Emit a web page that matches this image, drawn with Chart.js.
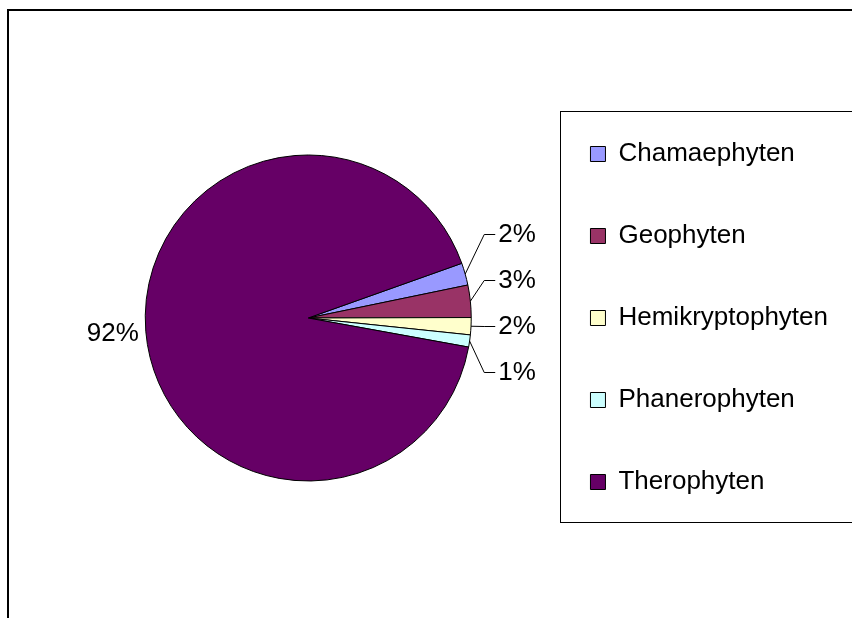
<!DOCTYPE html>
<html lang="de">
<head>
<meta charset="UTF-8">
<title>Lebensformen</title>
<script src="https://cdn.jsdelivr.net/npm/chart.js"></script>
<style>
  html, body { margin: 0; padding: 0; background: #fff; }
  #wrap { width: 852px; height: 618px; }
</style>
</head>
<body>
<div id="wrap"><canvas id="pie" width="852" height="618"></canvas></div>
<script>
// Anteile der Lebensformen (in %)
const labels = ['Chamaephyten', 'Geophyten', 'Hemikryptophyten', 'Phanerophyten', 'Therophyten'];
const shares = [2.2, 3.2, 1.7, 1.2, 91.7];
const colors = ['#9999ff', '#993366', '#ffffcc', '#ccffff', '#660066'];

const FONT = '"Liberation Sans", Arial, sans-serif';
Chart.defaults.font.family = FONT;
Chart.defaults.color = '#000';

// outer frame + border round the legend
const framePlugin = {
  id: 'frame',
  beforeDraw(chart) {
    const ctx = chart.ctx;
    ctx.save();
    ctx.fillStyle = '#fff';
    ctx.fillRect(0, 0, chart.width, chart.height);
    ctx.strokeStyle = '#000';
    ctx.lineWidth = 2;
    ctx.strokeRect(8, 10, chart.width + 20, chart.height + 20);

    const lg = chart.legend;
    const hb = lg.legendHitBoxes;
    if (hb && hb.length) {
      const top = hb[0].top - 30;
      const last = hb[hb.length - 1];
      const bottom = last.top + last.height + 27;
      ctx.lineWidth = 1;
      ctx.strokeRect(Math.round(lg.left + 26) + 0.5, Math.round(top) + 0.5, chart.width, Math.round(bottom - top));
    }
    ctx.restore();
  }
};

// percentage labels, small slices get leader lines
const labelPlugin = {
  id: 'sliceLabels',
  afterDatasetsDraw(chart) {
    const ctx = chart.ctx;
    const arcs = chart.getDatasetMeta(0).data;
    const total = shares.reduce((a, b) => a + b, 0);
    ctx.save();
    ctx.font = '26px ' + FONT;
    ctx.fillStyle = '#000';
    ctx.strokeStyle = '#000';
    ctx.lineWidth = 1;
    ctx.textBaseline = 'middle';
    const small = [];
    arcs.forEach((arc, i) => {
      const p = arc.getProps(['x', 'y', 'startAngle', 'endAngle', 'outerRadius'], true);
      const mid = (p.startAngle + p.endAngle) / 2;
      const text = Math.round(shares[i] / total * 100) + '%';
      if (shares[i] / total > 0.1) {
        ctx.textAlign = 'center';
        ctx.fillText(text, p.x + Math.cos(mid) * (p.outerRadius + 33), p.y + Math.sin(mid) * (p.outerRadius + 33));
      } else {
        small.push({ x: p.x, y: p.y, r: p.outerRadius, mid, text, ny: p.y + Math.sin(mid) * (p.outerRadius + 30) });
      }
    });
    const step = 46;
    const mean = small.reduce((s, d) => s + d.ny, 0) / small.length - 6;
    small.forEach((d, k) => {
      const ly = Math.round(mean + (k - (small.length - 1) / 2) * step) + 0.5;
      const ax = d.x + Math.cos(d.mid) * d.r;
      const ay = d.y + Math.sin(d.mid) * d.r;
      ctx.beginPath();
      ctx.moveTo(ax, ay);
      ctx.lineTo(d.x + d.r + 13, ly);
      ctx.lineTo(d.x + d.r + 24, ly);
      ctx.stroke();
      ctx.textAlign = 'left';
      ctx.fillText(d.text, d.x + d.r + 27, ly);
    });
    ctx.restore();
  }
};

new Chart(document.getElementById('pie'), {
  type: 'pie',
  data: {
    labels: labels,
    datasets: [{
      data: shares,
      backgroundColor: colors,
      borderColor: '#000',
      borderWidth: 1,
      radius: 163,
      rotation: 70.4
    }]
  },
  options: {
    responsive: false,
    animation: false,
    layout: { padding: { left: 82, top: 18, right: 14, bottom: 0 } },
    plugins: {
      legend: {
        position: 'right',
        align: 'center',
        labels: {
          boxWidth: 15,
          boxHeight: 15,
          padding: 56,
          color: '#000',
          font: { family: FONT, size: 26 }
        }
      },
      tooltip: { enabled: false }
    }
  },
  plugins: [framePlugin, labelPlugin]
});
</script>
</body>
</html>
